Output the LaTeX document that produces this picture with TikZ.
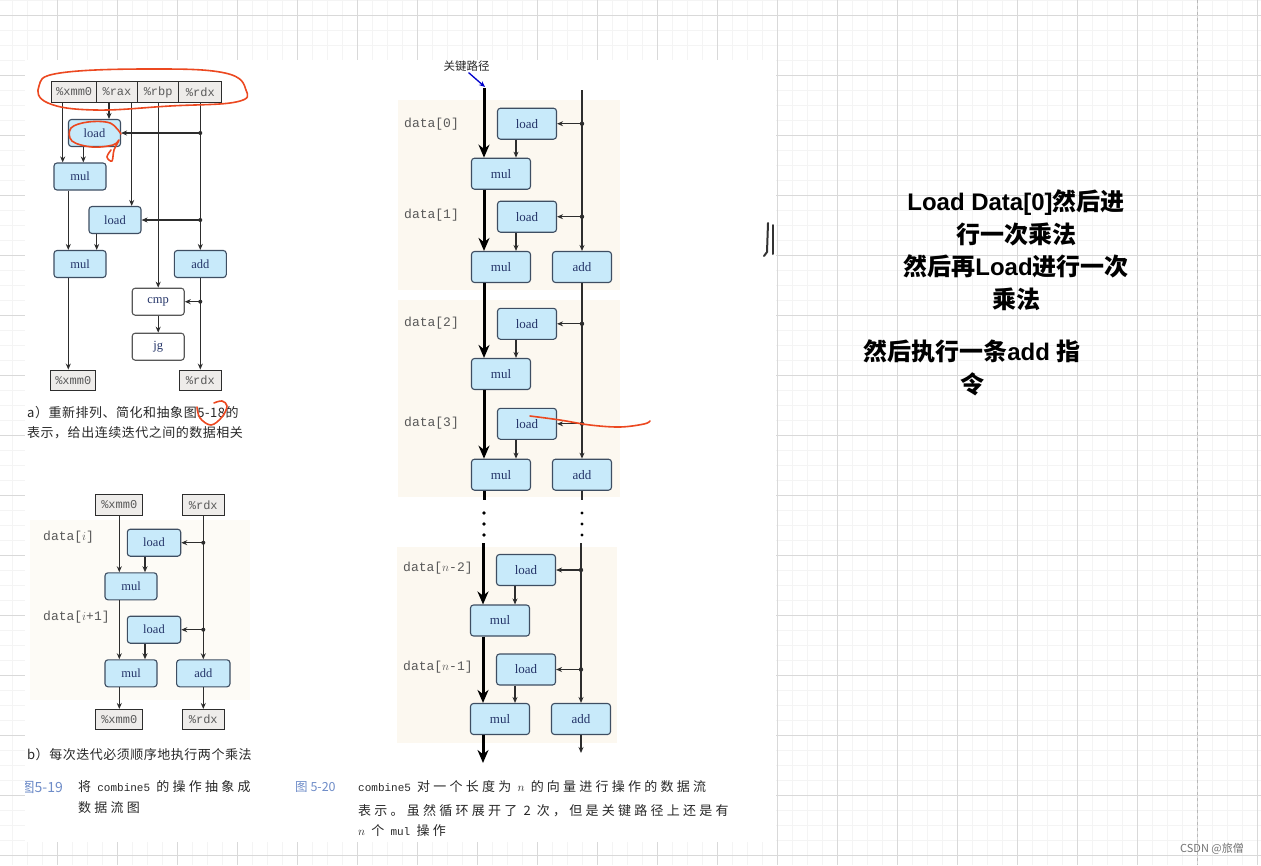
\documentclass[tikz,border=0pt]{standalone}
\usepackage{fontspec}
\setmainfont{Liberation Serif}
\setmonofont{Liberation Mono}
\newfontfamily\cjk{Noto Sans CJK SC}
\newfontfamily\cjkcap{Noto Sans CJK SC}[LetterSpace=4]
\newfontfamily\cjkwide{Noto Sans CJK SC}[LetterSpace=25]
\newfontfamily\lat{Liberation Sans}
\usetikzlibrary{arrows.meta}
\newcommand{\setfs}[1]{\fontsize{#1}{#1}\selectfont}
\definecolor{opfill}{RGB}{200,234,250}
\definecolor{opline}{RGB}{62,78,98}
\definecolor{optext}{RGB}{36,52,104}
\definecolor{wirecol}{RGB}{45,45,45}
\definecolor{regfill}{RGB}{238,236,234}
\definecolor{gridmin}{RGB}{244,244,244}
\definecolor{gridmaj}{RGB}{217,217,217}
\definecolor{paper}{RGB}{252,248,240}
\definecolor{pen}{RGB}{236,72,32}
\definecolor{fignum}{RGB}{110,140,200}
\definecolor{captext}{RGB}{40,40,40}

\begin{document}
\begin{tikzpicture}[x=1pt,y=-1pt,>={Stealth[length=6pt,width=5pt]},
  wire/.style={draw=wirecol,line width=1.1pt},
  critline/.style={draw=black,line width=3pt},
  crit/.style={critline,-{Stealth[length=13pt,width=11pt]}},
  op/.style={draw=opline,fill=opfill,line width=1.1pt,rounded corners=3pt,
    inner sep=0pt,text=optext,font=\setfs{13}},
  opA/.style={op,minimum width=52pt,minimum height=27pt,font=\setfs{12.5}},
  opR/.style={op,minimum width=59pt,minimum height=31pt},
  plain/.style={opA,fill=white,draw=wirecol!80},
  reg/.style={draw=wirecol,fill=regfill,line width=1pt,inner sep=0pt,
    minimum height=20.5pt,text=black!65,font=\ttfamily\setfs{12}},
  datalbl/.style={anchor=west,inner sep=0pt,text=black!65,font=\ttfamily\setfs{13}},
  captxt/.style={anchor=west,inner sep=0pt,text=captext,font=\cjkcap\setfs{13}},
  capwide/.style={anchor=west,inner sep=0pt,text=captext,font=\cjkwide\setfs{13}},
  note/.style={inner sep=0pt,align=center,font=\cjk\bfseries\fontsize{24}{32.5}\selectfont},
  hand/.style={draw=pen,line width=1.6pt,line cap=round,line join=round}]
  \useasboundingbox (0,0) rectangle (1261,865);

  \foreach \gx in {12,27,...,1257} \draw[gridmin,line width=0.8pt] (\gx,0) -- (\gx,865);
  \foreach \gy in {0,15,...,865} \draw[gridmin,line width=0.8pt] (0,\gy) -- (1261,\gy);
  \foreach \gx in {57,117,...,1257} \draw[gridmaj,line width=0.8pt] (\gx,0) -- (\gx,865);
  \foreach \gy in {15,75,...,855} \draw[gridmaj,line width=0.8pt] (0,\gy) -- (1261,\gy);
  \draw[gridmaj!85!black,line width=1pt,dashed] (1197,0) -- (1197,865);

  \fill[white] (25,60) rectangle (776,842);
  \fill[paper] (398,100) rectangle (620,290);
  \fill[paper] (398,300) rectangle (620,497);
  \fill[paper] (397,547) rectangle (617,743);
  \fill[paper!60] (30,520) rectangle (250,700);

  % a)
  \node[reg,minimum width=45pt] (xmmA) at (74.2,92) {\%xmm0};
  \node[reg,minimum width=40.6pt] (raxA) at (117,92) {\%rax};
  \node[reg,minimum width=41.7pt] (rbpA) at (158.2,92) {\%rbp};
  \node[reg,minimum width=42.7pt] (rdxA) at (200.3,92) {\%rdx};
  \node[opA] (loadA) at (94.5,133) {load};
  \node[opA] (mulA) at (80,176.5) {mul};
  \node[opA] (loadB) at (115,220) {load};
  \node[opA] (mulB) at (80,264) {mul};
  \node[opA] (addA) at (200.3,264) {add};
  \node[plain] (cmpA) at (158.2,301.7) {cmp};
  \node[plain] (jgA) at (158.2,346.7) {jg};
  \node[reg,minimum width=45.3pt] (xmmOut) at (73.3,380.3) {\%xmm0};
  \node[reg,minimum width=41.7pt] (rdxOut) at (200.3,380.3) {\%rdx};

  \draw[wire,->] ([xshift=-11.5pt]xmmA.south) -- ([xshift=-11.5pt]xmmA.south |- mulA.north);
  \draw[wire,->] ([xshift=-8pt]raxA.south) -- ([xshift=-8pt]raxA.south |- loadA.north);
  \draw[wire,->] ([xshift=14.7pt]raxA.south) -- ([xshift=14.7pt]raxA.south |- loadB.north);
  \draw[wire,->] (rbpA) -- (cmpA);
  \draw[wire,->] (rdxA) -- (addA);
  \coordinate (brA) at (rdxA.south |- loadA.east);
  \coordinate (brB) at (rdxA.south |- loadB.east);
  \fill[wirecol] (brA) circle (2);
  \fill[wirecol] (brB) circle (2);
  \draw[wire,->] (brA) -- (loadA.east);
  \draw[wire,->] (brB) -- (loadB.east);
  \draw[wire,->] ([xshift=-11.2pt]loadA.south) -- ([xshift=-11.2pt]loadA.south |- mulA.north);
  \draw[wire,->] ([xshift=-11.7pt]mulA.south) -- ([xshift=-11.7pt]mulA.south |- mulB.north);
  \draw[wire,->] ([xshift=-18.3pt]loadB.south) -- ([xshift=-18.3pt]loadB.south |- mulB.north);
  \draw[wire,->] ([xshift=-11.7pt]mulB.south) -- ([xshift=-11.7pt]mulB.south |- xmmOut.north);
  \draw[wire,->] (cmpA) -- (jgA);
  \draw[wire,->] (addA) -- (rdxOut);
  \coordinate (brC) at (addA.south |- cmpA.east);
  \fill[wirecol] (brC) circle (2);
  \draw[wire,->] (brC) -- (cmpA.east);

  \node[captxt] (capA1) at (27,413) {a）重新排列、简化和抽象图5-18的};
  \node[captxt] (capA2) at (27,432.5) {表示，给出连续迭代之间的数据相关};

  % b)
  \node[reg,minimum width=46.7pt] (xmmC) at (119.3,505) {\%xmm0};
  \node[reg,minimum width=41.6pt] (rdxC) at (203.3,505) {\%rdx};
  \node[opA,minimum width=53.4pt] (loadC) at (154,542.7) {load};
  \node[opA] (mulC) at (131,586.3) {mul};
  \node[opA,minimum width=53.4pt] (loadD) at (154,629.7) {load};
  \node[opA] (mulD) at (131,673.3) {mul};
  \node[opA,minimum width=53.3pt] (addC) at (203.3,673.3) {add};
  \node[reg,minimum width=46.7pt] (xmmCout) at (119.3,719.7) {\%xmm0};
  \node[reg,minimum width=41.6pt] (rdxCout) at (203.3,719.7) {\%rdx};
  \node[datalbl] (dlI) at (43,536.7) {data[$i$]};
  \node[datalbl] (dlJ) at (43,616.7) {data[$i$+1]};

  \draw[wire,->] (xmmC) -- (xmmC |- mulC.north);
  \draw[wire,->] ([xshift=-9pt]loadC.south) -- ([xshift=-9pt]loadC.south |- mulC.north);
  \draw[wire,->] ([xshift=-11.7pt]mulC.south) -- ([xshift=-11.7pt]mulC.south |- mulD.north);
  \draw[wire,->] ([xshift=-9pt]loadD.south) -- ([xshift=-9pt]loadD.south |- mulD.north);
  \draw[wire,->] ([xshift=-11.7pt]mulD.south) -- ([xshift=-11.7pt]mulD.south |- xmmCout.north);
  \draw[wire,->] (rdxC) -- (addC);
  \draw[wire,->] (addC) -- (rdxCout);
  \coordinate (brD) at (rdxC.south |- loadC.east);
  \coordinate (brE) at (rdxC.south |- loadD.east);
  \fill[wirecol] (brD) circle (2);
  \fill[wirecol] (brE) circle (2);
  \draw[wire,->] (brD) -- (loadC.east);
  \draw[wire,->] (brE) -- (loadD.east);

  \node[captxt] (capB) at (27,755) {b）每次迭代必须顺序地执行两个乘法};
  \begin{scope}
    \clip (25,60) rectangle (776,842);
    \node[anchor=east,inner sep=0pt,text=fignum,font=\cjk\setfs{14}] (fig19) at (63,787) {图5-19};
  \end{scope}
  \node[capwide] (cap19a) at (78,787) {将 {\ttfamily\setfs{11}combine5} 的操作抽象成};
  \node[capwide] (cap19b) at (78,808) {数据流图};

  % 5-20
  \node[font=\cjk\setfs{11.5},text=captext,inner sep=0pt] (critlbl) at (466.5,66) {关键路径};
  \coordinate (critTip) at (485,87);
  \draw[blue!80!black,line width=1.3pt,-{Stealth[length=6pt,width=5pt]}] (critlbl.south) ++(2,1) -- (critTip);

  \node[opR] (loadR0) at (527,123.7) {load};
  \node[opR] (mulR0) at (501,173.7) {mul};
  \node[opR] (loadR1) at (527,216.7) {load};
  \node[opR] (mulR1) at (501,267) {mul};
  \node[opR] (addR1) at (582,267) {add};
  \node[opR] (loadR2) at (527,323.8) {load};
  \node[opR] (mulR2) at (501,374) {mul};
  \node[opR] (loadR3) at (527,423.8) {load};
  \node[opR] (mulR3) at (501,474.7) {mul};
  \node[opR] (addR3) at (582,474.7) {add};
  \node[opR] (loadR4) at (526,570) {load};
  \node[opR] (mulR4) at (500,620.5) {mul};
  \node[opR] (loadR5) at (526,669.5) {load};
  \node[opR] (mulR5) at (500,719) {mul};
  \node[opR] (addR5) at (581,719) {add};

  \node[datalbl] (dl0) at (404,124) {data[0]};
  \node[datalbl] (dl1) at (404,215) {data[1]};
  \node[datalbl] (dl2) at (404,322.7) {data[2]};
  \node[datalbl] (dl3) at (404,422.7) {data[3]};
  \node[datalbl] (dl4) at (403,568.3) {data[$n$-2]};
  \node[datalbl] (dl5) at (403,667.3) {data[$n$-1]};

  \coordinate (cpTop) at (484,88);
  \coordinate (cpGapA) at (484,500);
  \coordinate (cpGapB) at (483,543);
  \coordinate (cpEnd) at (483,763);
  \draw[crit] (cpTop) -- (cpTop |- mulR0.north);
  \draw[crit] ([xshift=-17pt]mulR0.south) -- ([xshift=-17pt]mulR1.north);
  \draw[crit] ([xshift=-17pt]mulR1.south) -- ([xshift=-17pt]mulR2.north);
  \draw[crit] ([xshift=-17pt]mulR2.south) -- ([xshift=-17pt]mulR3.north);
  \draw[critline] ([xshift=-17pt]mulR3.south) -- (cpGapA);
  \draw[crit] (cpGapB) -- (cpGapB |- mulR4.north);
  \draw[crit] ([xshift=-17pt]mulR4.south) -- ([xshift=-17pt]mulR5.north);
  \draw[crit] ([xshift=-17pt]mulR5.south) -- (cpEnd);
  \foreach \dy in {513,524,535} {
    \fill (484,\dy) circle (1.8);
    \fill (582,\dy) circle (1.6);
  }

  \coordinate (rTop) at (582,90);
  \coordinate (rGapA) at (582,500);
  \coordinate (rGapB) at (581,543);
  \coordinate (rEnd) at (581,753);
  \draw[wire,line width=1.2pt,->] (rTop) -- (rTop |- addR1.north);
  \draw[wire,line width=1.2pt,->] (addR1) -- (addR3);
  \draw[wire,line width=1.2pt] (addR3.south) -- (rGapA);
  \draw[wire,line width=1.2pt,->] (rGapB) -- (rGapB |- addR5.north);
  \draw[wire,line width=1.2pt,->] (addR5.south) -- (rEnd);
  \foreach \ld/\rx in {loadR0/582,loadR1/582,loadR2/582,loadR3/582,loadR4/581,loadR5/581} {
    \coordinate (br-\ld) at (\rx,0 |- \ld.east);
    \fill[wirecol] (br-\ld) circle (2.2);
    \draw[wire,line width=1.2pt,->] (br-\ld) -- (\ld.east);
  }
  \foreach \ld/\ml in {loadR0/mulR0,loadR1/mulR1,loadR2/mulR2,loadR3/mulR3,loadR4/mulR4,loadR5/mulR5}
    \draw[wire,line width=1.2pt,->] ([xshift=-11pt]\ld.south) -- ([xshift=-11pt]\ld.south |- \ml.north);

  \node[anchor=west,inner sep=0pt,text=fignum,font=\cjk\setfs{12.5}] (fig20) at (295,787) {图 5-20};
  \node[capwide] (cap20a) at (358,787) {{\ttfamily\setfs{11}combine5} 对一个长度为 $n$ 的向量进行操作的数据流};
  \node[capwide] (cap20b) at (358,810.7) {表示。虽然循环展开了 2 次，但是关键路径上还是有};
  \node[capwide] (cap20c) at (358,830.7) {$n$ 个 {\ttfamily\setfs{11}mul} 操作};

  % hand marks
  \draw[hand] plot[smooth cycle,tension=0.7] coordinates {(39,86) (60,73) (150,69) (225,73) (246,90) (236,102) (170,106) (95,110) (48,103)};
  \draw[hand] plot[smooth,tension=0.6] coordinates {(121,134) (110,123) (88,122) (71,128) (72,141) (92,147) (113,145) (119,140) (114,150) (112,161) (107,157) (111,150)};
  \draw[hand] plot[smooth,tension=0.6] coordinates {(197,407) (200,418) (211,425) (222,417) (227,406) (222,401) (214,403)};
  \draw[hand] plot[smooth,tension=0.6] coordinates {(530,416) (560,420) (590,425) (620,427) (644,424) (650,421)};
  \draw[black!80,line width=2pt,line cap=round] (768,223) -- (767,252) -- (764,256);
  \draw[black!80,line width=2pt,line cap=round] (773,225) -- (773,254);

  % notes
  \node[note] (noteA) at (1016,250) {{\lat Load Data[0]}然后进\\行一次乘法\\然后再{\lat Load}进行一次\\乘法};
  \node[note] (noteB) at (972,368) {然后执行一条{\lat add }指\\令};
  \node[inner sep=0pt,text=black!55,font=\cjk\setfs{11}] (csdn) at (1212,849) {CSDN @旅僧};
\end{tikzpicture}
\end{document}
